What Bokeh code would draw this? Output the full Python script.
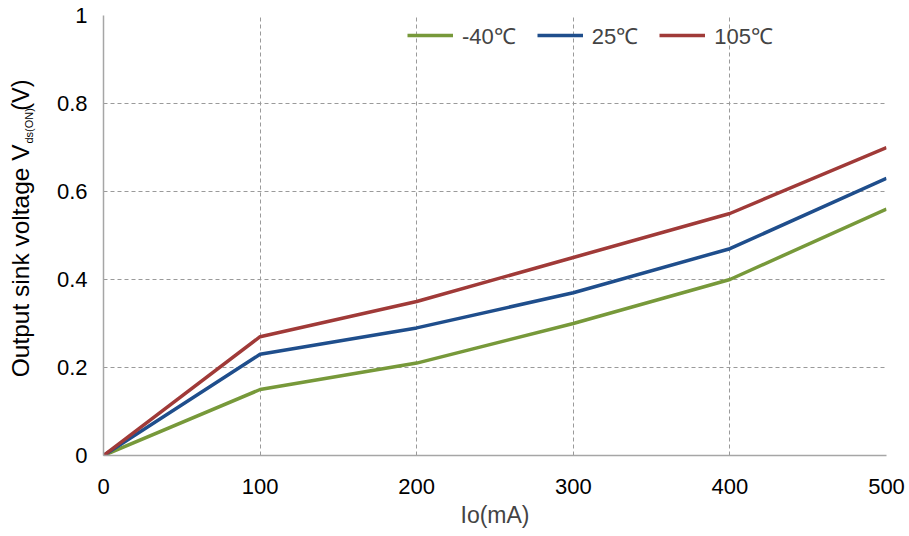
import math
from bokeh.plotting import figure
from bokeh.layouts import row
from bokeh.models import Range1d, FixedTicker, Legend, LegendItem, Label
from bokeh.embed import file_html
from bokeh.resources import INLINE

# ---- data ----
io_ma = [0, 100, 200, 300, 400, 500]
v_m40 = [0, 0.15, 0.21, 0.30, 0.40, 0.56]
v_25 = [0, 0.23, 0.29, 0.37, 0.47, 0.63]
v_105 = [0, 0.27, 0.35, 0.45, 0.55, 0.70]
series_names = ["-40\u2103", "25\u2103", "105\u2103"]
x_ticks = [0, 100, 200, 300, 400, 500]
y_ticks = [0, 0.2, 0.4, 0.6, 0.8, 1.0]
y_tick_labels = ["0", "0.2", "0.4", "0.6", "0.8", "1"]
x_label = "Io(mA)"
y_label_main = "Output sink voltage V"
y_label_sub = "ds(ON)"
y_label_unit = "(V)"

colors = ["#77993A", "#1F4E8C", "#A03A38"]
FONT = "Liberation Sans"

W, H = 909, 536
LW = 45                      # width of the strip that carries the y-axis title
L, R, T, B = 103 - LW, 23, 15, 81

p = figure(width=W - LW, height=H, output_backend="svg", toolbar_location=None,
           x_range=Range1d(0, 500), y_range=Range1d(0, 1),
           min_border_left=L, min_border_right=R, min_border_top=T, min_border_bottom=B)
p.outline_line_color = None
p.background_fill_color = "white"
p.border_fill_color = "white"

p.xaxis.ticker = FixedTicker(ticks=x_ticks)
p.yaxis.ticker = FixedTicker(ticks=y_ticks)
p.yaxis.major_label_overrides = {t: s for t, s in zip(y_ticks, y_tick_labels)}
for ax in (p.xaxis, p.yaxis):
    ax.major_tick_line_color = None
    ax.minor_tick_line_color = None
    ax.axis_line_color = "#A6A6A6"
    ax.axis_line_width = 1.5
    ax.major_label_text_font = FONT
    ax.major_label_text_font_size = "22px"
    ax.major_label_text_color = "#000000"
p.xaxis.major_label_standoff = 17
p.yaxis.major_label_standoff = 10
p.xaxis.axis_label = x_label
p.xaxis.axis_label_text_font = FONT
p.xaxis.axis_label_text_font_size = "23px"
p.xaxis.axis_label_text_font_style = "normal"
p.xaxis.axis_label_standoff = 5

for g in (p.xgrid, p.ygrid):
    g.grid_line_color = "#9A9A9A"
    g.grid_line_dash = "4 3"
    g.grid_line_width = 1

renderers = []
for ys, c in zip([v_m40, v_25, v_105], colors):
    r = p.line(io_ma, ys, line_color=c, line_width=3.5)
    renderers.append(r)

legend = Legend(items=[LegendItem(label=n, renderers=[r]) for n, r in zip(series_names, renderers)],
                orientation="horizontal", location=(304, 405),
                glyph_width=46, glyph_height=22, label_standoff=9, spacing=21,
                padding=0, margin=0, border_line_color=None, background_fill_alpha=0,
                label_text_font=FONT, label_text_font_size="22px")
p.add_layout(legend, "center")

# narrow strip on the left carrying the y-axis title with its subscript;
# its ranges are pixel-sized so that positions read as pixels from the top
s = figure(width=LW, height=H, output_backend="svg", toolbar_location=None,
           x_range=Range1d(0, LW), y_range=Range1d(H, 0),
           x_axis_location=None, y_axis_location=None, min_border=0)
s.outline_line_color = None
s.grid.visible = False
s.background_fill_color = "white"
s.border_fill_color = "white"

common = dict(angle=math.pi / 2, text_baseline="middle", text_font=FONT, text_color="#000000")
s.add_layout(Label(x=20, y=157, text=y_label_main, text_align="right",
                   text_font_size="24.5px", **common))
s.add_layout(Label(x=28, y=156, text=y_label_sub, text_align="left",
                   text_font_size="11px", **common))
s.add_layout(Label(x=20, y=116, text=y_label_unit, text_align="left",
                   text_font_size="23.5px", **common))

layout = row(s, p, spacing=0)
open("out.html", "w").write(file_html(layout, INLINE))
